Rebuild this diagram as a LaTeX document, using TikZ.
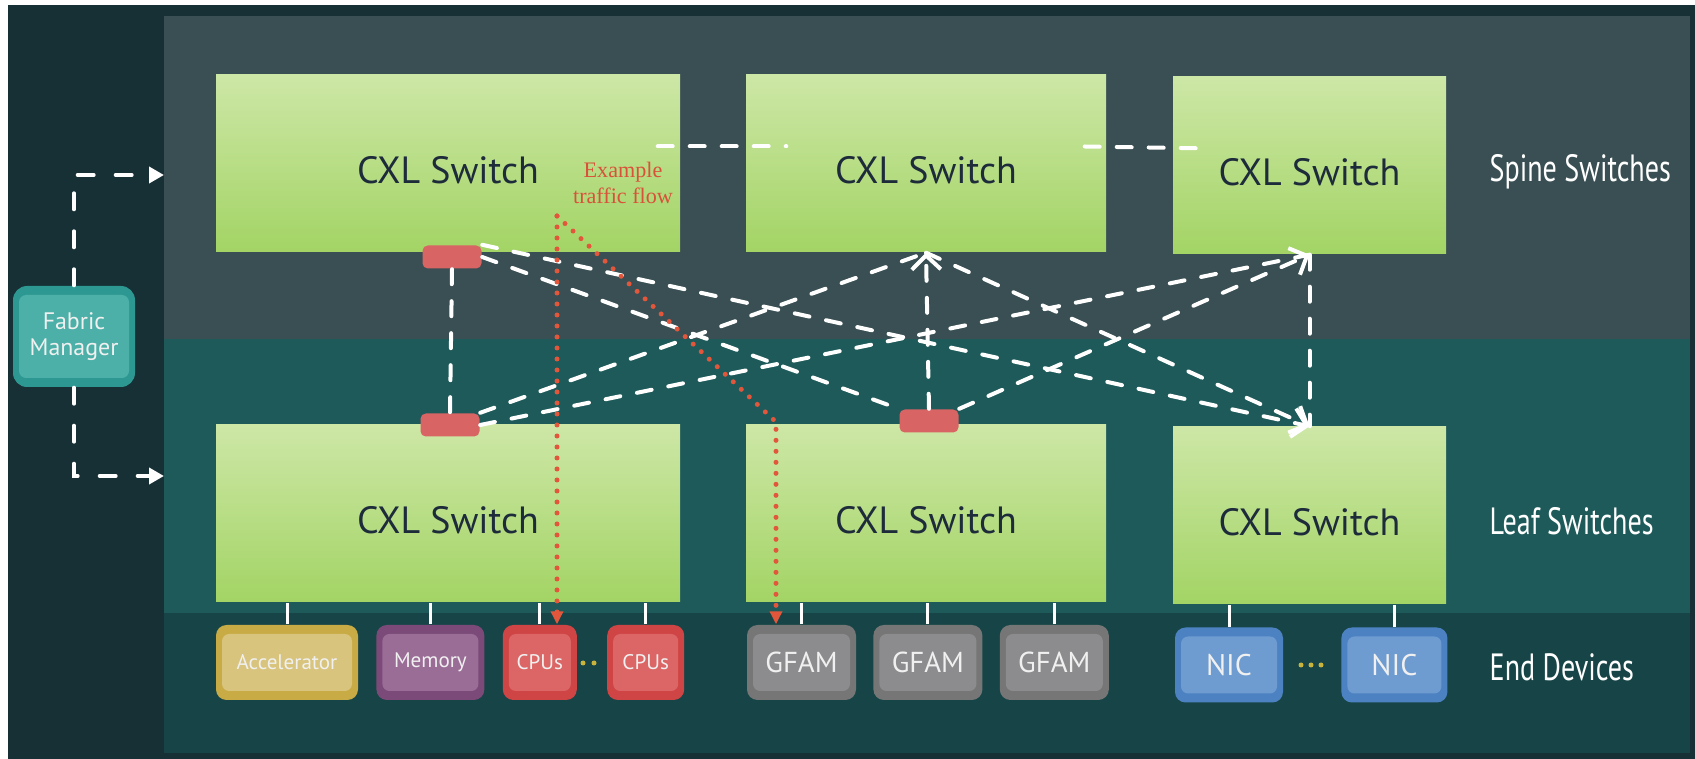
\documentclass[tikz,border=0pt]{standalone}
\usepackage{fontspec}
\setmainfont{PT Sans}
\newfontfamily\tightfont[FakeStretch=0.74]{PT Sans}
\newfontfamily\notefont{Liberation Serif}
\usetikzlibrary{arrows.meta,positioning,calc}
\definecolor{Night}{HTML}{163036}
\definecolor{SpineBand}{HTML}{394F53}
\definecolor{LeafBand}{HTML}{1E5A5A}
\definecolor{EndBand}{HTML}{174547}
\definecolor{LimeTop}{HTML}{CDE7A6}
\definecolor{LimeBot}{HTML}{A3D465}
\definecolor{Navy}{HTML}{1D2B3B}
\definecolor{Port}{HTML}{D96464}
\definecolor{Flow}{HTML}{E2573C}
\definecolor{Note}{HTML}{D8523A}
\definecolor{Dot}{HTML}{C8B43C}
\definecolor{Amber}{HTML}{C8AB45}
\definecolor{AmberIn}{HTML}{D8C47C}
\definecolor{Plum}{HTML}{7B4A78}
\definecolor{PlumIn}{HTML}{9A6D97}
\definecolor{Brick}{HTML}{CF4444}
\definecolor{BrickIn}{HTML}{DC6666}
\definecolor{Slate}{HTML}{767676}
\definecolor{SlateIn}{HTML}{8C8C8E}
\definecolor{Sky}{HTML}{4C82C2}
\definecolor{SkyIn}{HTML}{6E9BD0}
\definecolor{Teal}{HTML}{2D9892}
\definecolor{TealIn}{HTML}{4DB0A8}
\tikzset{
  switch/.style={top color=LimeTop,bottom color=LimeBot,minimum height=17.7mm,text=Navy,text height=4mm,text depth=0pt,font=\fontsize{10.8}{13}\selectfont},
  port/.style={fill=Port,rounded corners=1.5pt,minimum width=5.9mm,minimum height=2.3mm,inner sep=0pt},
  dev/.style 2 args={fill=#1,rounded corners=3pt,minimum height=7.5mm,inner sep=0pt,text=white!94!black,font=\fontsize{6}{7}\selectfont,
    path picture={\fill[#2,rounded corners=2pt] ($(path picture bounding box.north west)+(0.6mm,-0.9mm)$) rectangle ($(path picture bounding box.south east)+(-0.6mm,0.9mm)$);}},
  lbl/.style={text=white,font=\tightfont\fontsize{10.8}{13}\selectfont,inner sep=0pt,anchor=west},
  link/.style={draw=white,line width=0.4mm,dash pattern=on 1.5mm off 1.7mm,line cap=round},
  linkarr/.style={link,-{Straight Barb[length=1.4mm,width=2.9mm]}},
  fmlink/.style={draw=white,line width=0.4mm,dash pattern=on 1.6mm off 2.2mm,line cap=round,-{Triangle[length=1.5mm,width=1.6mm]}},
  flow/.style={draw=Flow,line width=0.5mm,dash pattern=on 0pt off 1.1mm,line cap=round,-{Triangle[length=1.3mm,width=1.2mm]}},
  tie/.style={draw=white,line width=0.3mm}
}
\begin{document}
\begin{tikzpicture}[x=0.1mm,y=-0.1mm]
  \fill[white] (0,0) rectangle (1695,759);
  \fill[Night] (8,5) rectangle (1695,759);
  \fill[SpineBand] (164,16) rectangle (1690,339);
  \fill[LeafBand] (164,339) rectangle (1690,613);
  \fill[EndBand] (164,613) rectangle (1690,753);

  \node[switch,minimum width=46.4mm] (s1) at (448,163.5) {CXL Switch};
  \node[switch,minimum width=36mm] (s2) at (926,163.5) {CXL Switch};
  \node[switch,minimum width=27.3mm] (s3) at (1309.5,165.5) {CXL Switch};
  \node[switch,minimum width=46.4mm] (l1) at (448,513.5) {CXL Switch};
  \node[switch,minimum width=36mm] (l2) at (926,513.5) {CXL Switch};
  \node[switch,minimum width=27.3mm] (l3) at (1309.5,515.5) {CXL Switch};

  \node[lbl] (tspine) at (1489,172) {Spine Switches};
  \node[lbl] (tleaf) at (1489,521) {Leaf Switches};
  \node[lbl] (tend) at (1489,667) {End Devices};

  \node[dev={Amber}{AmberIn},minimum width=14.2mm] (acc) at (287,662.5) {Accelerator};
  \node[dev={Plum}{PlumIn},minimum width=10.8mm,right=1.7mm of acc] (mem) {Memory};
  \node[dev={Brick}{BrickIn},minimum width=7.4mm,right=1.7mm of mem] (cpu1) {CPUs};
  \node[dev={Brick}{BrickIn},minimum width=7.7mm,right=2.9mm of cpu1] (cpu2) {CPUs};
  \node[dev={Slate}{SlateIn},minimum width=10.9mm,font=\fontsize{8.2}{9}\selectfont] (g1) at (801.5,662.5) {GFAM};
  \node[dev={Slate}{SlateIn},minimum width=10.9mm,font=\fontsize{8.2}{9}\selectfont,right=1.6mm of g1] (g2) {GFAM};
  \node[dev={Slate}{SlateIn},minimum width=10.9mm,font=\fontsize{8.2}{9}\selectfont,right=1.6mm of g2] (g3) {GFAM};
  \node[dev={Sky}{SkyIn},minimum width=10.8mm,font=\fontsize{8.5}{9}\selectfont] (n1) at (1229,665) {NIC};
  \node[dev={Sky}{SkyIn},minimum width=10.6mm,font=\fontsize{8.5}{9}\selectfont,right=5.7mm of n1] (n2) {NIC};
  \foreach \d/\s in {acc/l1,mem/l1,cpu1/l1,cpu2/l1,g1/l2,g2/l2,g3/l2,n1/l3,n2/l3}
    \draw[tie] (\d.north) -- (\d.north |- \s.south);
  \foreach \x in {583,594}
    \fill[Dot] (\x,663) circle (0.25mm);
  \foreach \x in {1301,1311,1321}
    \fill[Dot] (\x,665) circle (0.25mm);

  \node[port] (p1) at (452,257) {};
  \node[port] (p2) at (450,425) {};
  \node[port] (p3) at (929,421) {};

  \draw[link] (p1.south) -- (p2.north);
  \draw[linkarr] (p1.north east) -- (l3.north);
  \draw[link] (p1.east) -- (p3.north west);
  \draw[link] (p2.north east) -- (s2.south);
  \draw[link] (p2.east) -- (s3.south);
  \draw[linkarr] (p3.north) -- (s2.south);
  \draw[linkarr] (p3.north east) -- (s3.south);
  \draw[linkarr] (s2.south) -- (l3.north);
  \draw[link] (s3.south) -- (l3.north);
  \draw[link] ([shift={(-23,-17)}]s1.east) -- ([shift={(41,-17)}]s2.west);
  \draw[link] ([shift={(-22,-17)}]s2.east) -- ([shift={(40,-17)}]s3.west);

  \node[dev={Teal}{TealIn},minimum width=12.2mm,minimum height=10.1mm,rounded corners=4pt,align=center,
    font=\fontsize{6.8}{7.4}\selectfont] (fm) at (74,336.5) {Fabric\\Manager};
  \coordinate (fmtop) at (164,175);
  \coordinate (fmbot) at (164,476);
  \draw[fmlink] (fm.north) |- (fmtop);
  \draw[fmlink] (fm.south) |- (fmbot);

  \node[text=Note,align=center,font=\notefont\fontsize{6.3}{7.2}\selectfont] (note) at (623,183) {Example\\traffic flow};
  \coordinate (tf) at (557,216);
  \coordinate (tfbend) at (776,422);
  \draw[flow] (tf) -- (tf |- cpu1.north);
  \draw[flow] (tf) -- (tfbend) -- (tfbend |- g1.north);
\end{tikzpicture}
\end{document}
